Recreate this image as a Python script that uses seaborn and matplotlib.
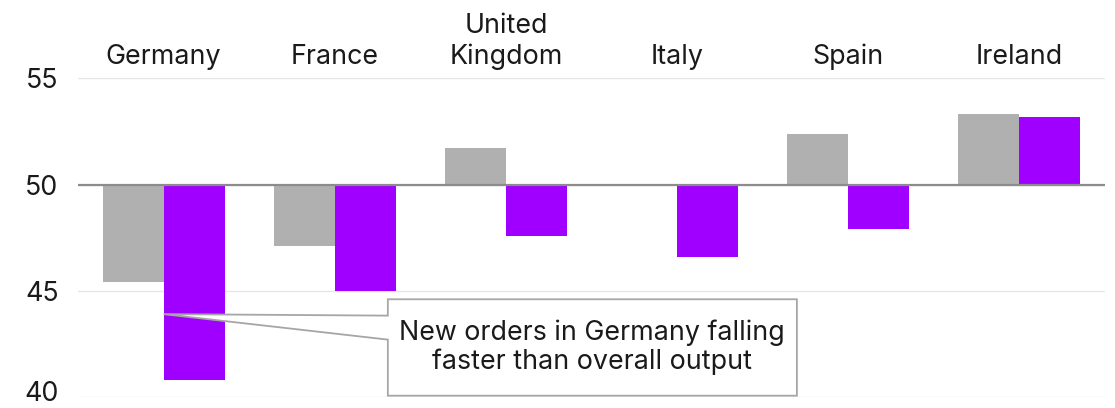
import matplotlib
matplotlib.use("Agg")
import matplotlib.pyplot as plt
import matplotlib.transforms as mtransforms
from matplotlib.patches import Polygon
from matplotlib.ticker import FuncFormatter
import pandas as pd
import seaborn as sns

# PMI readings by country
countries = ["Germany", "France", "United\nKingdom", "Italy", "Spain", "Ireland"]
output_pmi = [45.4, 47.1, 51.7, 50.0, 52.4, 53.3]
new_orders_pmi = [40.8, 45.0, 47.6, 46.6, 47.9, 53.2]
series_names = ["Output", "New orders"]
y_ticks = [40, 45, 50, 55]
neutral = 50  # bars grow up/down from the 50 no-change line

callout_text = "New orders in Germany falling\nfaster than overall output"
callout_anchor_value = 43.9

df = pd.DataFrame({
    "country": countries * 2,
    "series": [series_names[0]] * len(countries) + [series_names[1]] * len(countries),
    "pmi": output_pmi + new_orders_pmi,
})
df["offset"] = df["pmi"] - neutral

sns.set_theme(style="white")
plt.rcParams["font.family"] = ["Inter", "DejaVu Sans"]
text_color = "#1a1a1a"
font_size = 19.3

fig = plt.figure(figsize=(11.15, 4.08), dpi=100)
ax = fig.add_axes([0.070, 0.027, 0.921, 0.781])

sns.barplot(
    data=df, x="country", y="offset", hue="series",
    palette=["#B0B0B0", "#A000FF"], saturation=1,
    width=0.714, gap=0, linewidth=0, errorbar=None,
    legend=False, ax=ax,
)

ax.set_xlim(-0.5, len(countries) - 0.5)
ax.set_ylim(y_ticks[0] - neutral, y_ticks[-1] - neutral)
ax.set_yticks([t - neutral for t in y_ticks])
ax.yaxis.set_major_formatter(FuncFormatter(lambda v, _: f"{v + neutral:.0f}"))
ax.grid(axis="y", color="#E6E6E6", linewidth=1.0)
ax.grid(axis="x", visible=False)
ax.set_axisbelow(True)
ax.axhline(0, color="#8C8C8C", linewidth=1.6, zorder=3)

for s in ax.spines.values():
    s.set_visible(False)

ax.xaxis.tick_top()
ax.tick_params(axis="x", length=0, pad=6, labelsize=font_size, labelcolor=text_color)
ax.tick_params(axis="y", length=0, pad=14, labelsize=font_size, labelcolor=text_color)
ax.set_xlabel("")
ax.set_ylabel("")

# keep the lowest tick label inside the figure edge
fig.canvas.draw()
bottom_label = ax.get_yticklabels()[0]
bottom_label.set_transform(
    bottom_label.get_transform()
    + mtransforms.ScaledTranslation(0, 4 / 72, fig.dpi_scale_trans)
)

# Callout box with a wedge pointing at the German new-orders bar
ax_y = callout_anchor_value - neutral
bx0, bx1 = 1.31, 3.70
by_top, by_bot = 44.6 - neutral, 40.06 - neutral
w_top, w_bot = 43.83 - neutral, 42.7 - neutral
callout = Polygon(
    [(bx0, by_top), (bx1, by_top), (bx1, by_bot), (bx0, by_bot),
     (bx0, w_bot), (0, ax_y), (bx0, w_top)],
    closed=True, facecolor="white", edgecolor="#A6A6A6",
    linewidth=1.3, zorder=5, clip_on=False,
)
ax.add_patch(callout)
ax.text((bx0 + bx1) / 2, (by_top + by_bot) / 2, callout_text,
        ha="center", va="center", fontsize=font_size, color=text_color,
        linespacing=1.12, zorder=6)

fig.savefig("out.png", dpi=100)
